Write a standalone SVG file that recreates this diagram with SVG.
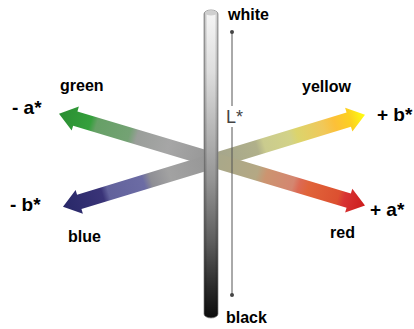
<svg xmlns="http://www.w3.org/2000/svg" width="414" height="329" viewBox="0 0 414 329">
<style>
.lbl{font-family:"Liberation Sans",Arial,sans-serif;font-weight:bold;font-size:16px;fill:#000}
.ax{font-family:"Liberation Sans",Arial,sans-serif;font-weight:bold;font-size:19px;fill:#000}
</style>
<defs>
<linearGradient id="gGreen" gradientUnits="userSpaceOnUse" x1="215" y1="160.5" x2="59" y2="113.7">
<stop offset="0" stop-color="#959595"/><stop offset="0.3" stop-color="#a6a6a6"/><stop offset="0.5" stop-color="#9a9e9a"/>
<stop offset="0.55" stop-color="#74a274"/><stop offset="0.76" stop-color="#66a066"/><stop offset="0.8" stop-color="#35a03c"/><stop offset="1" stop-color="#2a8e32"/>
</linearGradient>
<linearGradient id="gBlue" gradientUnits="userSpaceOnUse" x1="215" y1="160.5" x2="63" y2="206.8">
<stop offset="0" stop-color="#959595"/><stop offset="0.3" stop-color="#a2a2a2"/><stop offset="0.42" stop-color="#8e8e94"/>
<stop offset="0.47" stop-color="#6c6ca4"/><stop offset="0.7" stop-color="#62629c"/><stop offset="0.74" stop-color="#3a3478"/><stop offset="1" stop-color="#282868"/>
</linearGradient>
<linearGradient id="gYellow" gradientUnits="userSpaceOnUse" x1="215" y1="160.5" x2="365" y2="114.7">
<stop offset="0" stop-color="#a4a48c"/><stop offset="0.28" stop-color="#b0b08a"/><stop offset="0.33" stop-color="#cacb8e"/>
<stop offset="0.5" stop-color="#d2d288"/><stop offset="0.55" stop-color="#dcd46c"/><stop offset="0.72" stop-color="#f0c85a"/>
<stop offset="0.8" stop-color="#fcc038"/><stop offset="0.9" stop-color="#fcd020"/><stop offset="1" stop-color="#ffff10"/>
</linearGradient>
<linearGradient id="gRed" gradientUnits="userSpaceOnUse" x1="215" y1="160.5" x2="365" y2="205.5">
<stop offset="0" stop-color="#a8a88a"/><stop offset="0.28" stop-color="#b4a884"/><stop offset="0.34" stop-color="#cc9470"/>
<stop offset="0.52" stop-color="#d48670"/><stop offset="0.56" stop-color="#dc6a54"/><stop offset="0.62" stop-color="#e0643a"/>
<stop offset="0.82" stop-color="#dc5030"/><stop offset="0.86" stop-color="#d83434"/><stop offset="1" stop-color="#cc1c1c"/>
</linearGradient>
<linearGradient id="gBar" x1="0" y1="0" x2="0" y2="1">
<stop offset="0" stop-color="#f6f6f6"/><stop offset="0.2" stop-color="#dedede"/><stop offset="0.4" stop-color="#b4b4b4"/>
<stop offset="0.55" stop-color="#959595"/><stop offset="0.75" stop-color="#5e5e5e"/><stop offset="0.9" stop-color="#2a2a2a"/><stop offset="1" stop-color="#0c0c0c"/>
</linearGradient>
<linearGradient id="gBarShade" x1="0" y1="0" x2="1" y2="0">
<stop offset="0" stop-color="#000" stop-opacity="0.3"/><stop offset="0.25" stop-color="#000" stop-opacity="0"/>
<stop offset="0.75" stop-color="#000" stop-opacity="0"/><stop offset="1" stop-color="#000" stop-opacity="0.25"/>
</linearGradient>
</defs>

<g id="connectors">
<polygon id="arrow-green" fill="url(#gGreen)" points="217.15,153.32 77.43,111.40 78.87,106.61 59,113.7 71.69,130.55 73.13,125.76 212.85,167.68"/>
<polygon id="arrow-blue" fill="url(#gBlue)" points="212.81,153.33 77.07,194.68 75.62,189.89 63,206.8 82.90,213.81 81.45,209.02 217.19,167.67"/>
<polygon id="arrow-yellow" fill="url(#gYellow)" points="217.19,167.67 350.93,126.83 352.39,131.62 365,114.7 345.09,107.70 346.55,112.49 212.81,153.33"/>
<polygon id="arrow-red" fill="url(#gRed)" points="212.84,167.68 346.56,207.79 345.13,212.58 365,205.5 352.31,188.64 350.88,193.43 217.16,153.32"/>
</g>

<g id="bar">
<rect x="204" y="10" width="14" height="308" rx="7" ry="4" fill="url(#gBar)" stroke="#8a8a8a" stroke-width="0.8"/>
<rect x="204" y="10" width="14" height="308" rx="7" ry="4" fill="url(#gBarShade)"/>
<ellipse cx="211" cy="13" rx="6" ry="2.5" fill="#cfcfcf"/>
</g>

<g id="lightness-axis">
<line x1="232" y1="32" x2="232" y2="106" stroke="#555" stroke-width="1"/>
<line x1="232" y1="127" x2="232" y2="295" stroke="#555" stroke-width="1"/>
<circle cx="232" cy="32" r="2" fill="#444"/>
<circle cx="232" cy="295" r="2" fill="#444"/>
<text x="226" y="123" style="font-family:'Liberation Sans',Arial,sans-serif;font-size:18px;fill:#444">L*</text>
</g>

<g id="labels">
<text id="t-white" class="lbl" x="228" y="20">white</text>
<text id="t-black" class="lbl" x="226" y="323">black</text>
<text id="t-green" class="lbl" x="60" y="91">green</text>
<text id="t-blue" class="lbl" x="68" y="242">blue</text>
<text id="t-yellow" class="lbl" x="302" y="92">yellow</text>
<text id="t-red" class="lbl" x="330" y="238">red</text>
<text id="t-ma" class="ax" x="12" y="114">- a*</text>
<text id="t-mb" class="ax" x="10" y="211">- b*</text>
<text id="t-pb" class="ax" x="377" y="121">+ b*</text>
<text id="t-pa" class="ax" x="370" y="216">+ a*</text>
</g>
</svg>
